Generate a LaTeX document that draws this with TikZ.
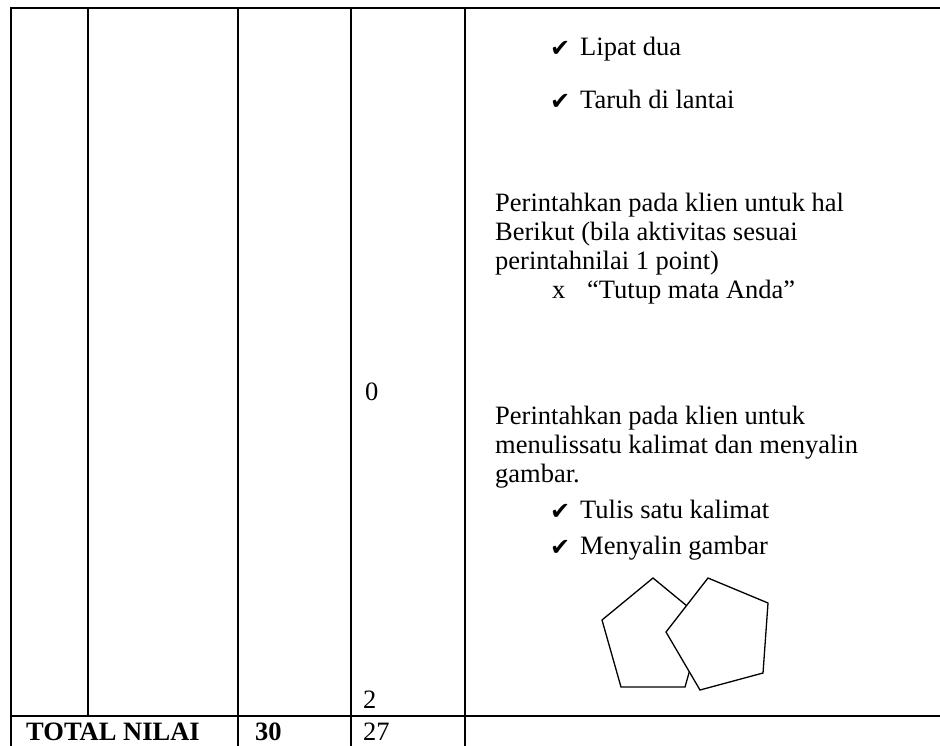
\documentclass[tikz,border=0pt]{standalone}
\usepackage{fontspec}
\setmainfont{Liberation Serif}
\newfontfamily\symfont{DejaVu Sans}
\usepackage{tikz}
\usetikzlibrary{positioning}
\tikzset{
    rule/.style={
        line width=2pt, draw=black, line cap=rect
    },
    celltext/.style={
        anchor=base west, inner sep=0pt, font=\fontsize{26.5}{29}\selectfont
    },
    cellbold/.style={
        celltext, font=\fontsize{26.5}{29}\selectfont\bfseries
    },
    tick/.style={
        anchor=base west, inner sep=0pt, font=\symfont\fontsize{24}{26}\selectfont
    },
    figline/.style={
        line width=1.3pt, draw=black, line join=miter
    }
}

\begin{document}
\begin{tikzpicture}[x=1pt, y=-1pt]

    \useasboundingbox (0,0) rectangle (940,745);

    % table rules
    \draw[rule] (11,8) -- (940,8);
    \draw[rule] (11,716) -- (940,716);
    \draw[rule] (11,8) -- (11,745);
    \draw[rule] (88,8) -- (88,716);
    \draw[rule] (238,8) -- (238,745);
    \draw[rule] (351,8) -- (351,745);
    \draw[rule] (465,8) -- (465,745);

    % score column
    \node[celltext] (zero)  at (365,400) {0};
    \node[celltext] (two)   at (363,708) {2};

    % total row
    \node[cellbold] (total) at (26,740)  {TOTAL NILAI};
    \node[cellbold] (max)   at (255,740) {30};
    \node[celltext] (score) at (363,740) {27};

    % instruction column
    \node[tick]     (tick1) at (550,56)  {✔};
    \node[celltext] (fold)  at (580,55)  {Lipat dua};
    \node[tick]     (tick2) at (550,109) {✔};
    \node[celltext] (floor) at (580,108) {Taruh di lantai};

    \node[celltext] (askA)  at (495,211) {Perintahkan pada klien untuk hal};
    \node[celltext] (askB)  at (495,240) {Berikut (bila aktivitas sesuai};
    \node[celltext] (askC)  at (495,269) {perintahnilai 1 point)};
    \node[celltext] (cross) at (552,298) {x};
    \node[celltext] (eyes)  at (587,298) {“Tutup mata Anda”};

    \node[celltext] (writeA) at (495,424) {Perintahkan pada klien untuk};
    \node[celltext] (writeB) at (495,453) {menulissatu kalimat dan menyalin};
    \node[celltext] (writeC) at (495,482) {gambar.};
    \node[tick]     (tick3)  at (550,519) {✔};
    \node[celltext] (sentence) at (580,518) {Tulis satu kalimat};
    \node[tick]     (tick4)  at (550,555) {✔};
    \node[celltext] (copy)   at (580,554) {Menyalin gambar};

    % overlapping pentagons
    \draw[figline] (653,578) -- (602,620) -- (621,687) -- (685,687) -- (704,620) -- cycle;
    \draw[figline, fill=white] (708,578) -- (768,603) -- (763,673) -- (700,690) -- (666,632) -- cycle;

\end{tikzpicture}
\end{document}
